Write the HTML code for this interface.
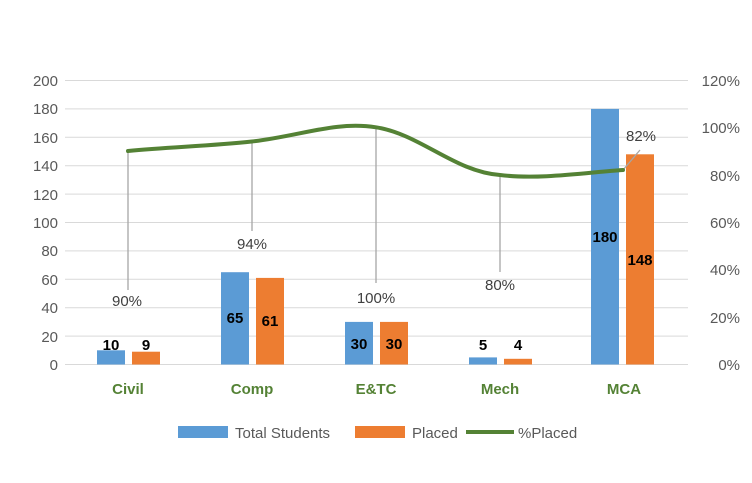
<!DOCTYPE html>
<html><head><meta charset="utf-8"><style>body{margin:0;background:#fff}svg{display:block;font-family:"Liberation Sans",sans-serif}</style></head><body>
<svg width="752" height="483" xmlns="http://www.w3.org/2000/svg">
<g stroke="#d9d9d9" stroke-width="1">
<line x1="65" x2="688" y1="80.5" y2="80.5"/><line x1="65" x2="688" y1="108.9" y2="108.9"/><line x1="65" x2="688" y1="137.3" y2="137.3"/><line x1="65" x2="688" y1="165.7" y2="165.7"/><line x1="65" x2="688" y1="194.1" y2="194.1"/><line x1="65" x2="688" y1="222.5" y2="222.5"/><line x1="65" x2="688" y1="250.9" y2="250.9"/><line x1="65" x2="688" y1="279.3" y2="279.3"/><line x1="65" x2="688" y1="307.7" y2="307.7"/><line x1="65" x2="688" y1="336.1" y2="336.1"/><line x1="65" x2="688" y1="364.5" y2="364.5"/>
</g>
<g font-size="15" fill="#595959" text-anchor="end">
<text x="58" y="86">200</text><text x="58" y="114">180</text><text x="58" y="143">160</text><text x="58" y="171">140</text><text x="58" y="200">120</text><text x="58" y="228">100</text><text x="58" y="256">80</text><text x="58" y="285">60</text><text x="58" y="313">40</text><text x="58" y="342">20</text><text x="58" y="370">0</text>
</g>
<g font-size="15" fill="#595959" text-anchor="end">
<text x="740" y="86">120%</text><text x="740" y="133">100%</text><text x="740" y="181">80%</text><text x="740" y="228">60%</text><text x="740" y="275">40%</text><text x="740" y="323">20%</text><text x="740" y="370">0%</text>
</g>
<g fill="#5b9bd5">
<rect x="97" y="350.3" width="28" height="14.2"/><rect x="221" y="272.2" width="28" height="92.3"/><rect x="345" y="321.9" width="28" height="42.6"/><rect x="469" y="357.4" width="28" height="7.1"/><rect x="591" y="108.9" width="28" height="255.6"/>
</g>
<g fill="#ed7d31">
<rect x="132" y="351.7" width="28" height="12.8"/><rect x="256" y="277.9" width="28" height="86.6"/><rect x="380" y="321.9" width="28" height="42.6"/><rect x="504" y="358.8" width="28" height="5.7"/><rect x="626" y="154.3" width="28" height="210.2"/>
</g>
<g font-size="15" font-weight="bold" fill="#000" text-anchor="middle">
<text x="111" y="350">10</text><text x="146" y="350">9</text><text x="235" y="323">65</text><text x="270" y="326">61</text><text x="359" y="349">30</text><text x="394" y="349">30</text><text x="483" y="350">5</text><text x="518" y="350">4</text><text x="605" y="242">180</text><text x="640" y="265">148</text>
</g>
<g stroke="#a6a6a6" stroke-width="1.3">
<line x1="128" y1="151" x2="128" y2="290"/><line x1="252" y1="142" x2="252" y2="231"/><line x1="376" y1="127" x2="376" y2="283"/><line x1="500" y1="175" x2="500" y2="272"/><line x1="623" y1="170" x2="640" y2="150"/>
</g>
<path d="M128,151 C170,147 210,146 252,141.5 C300,136 335,121 376,127.3 C420,134 455,172 500,175 C540,180 590,172 623,170" fill="none" stroke="#548235" stroke-width="4" stroke-linecap="round"/>
<g font-size="15" fill="#404040" text-anchor="middle">
<text x="127" y="306">90%</text><text x="252" y="249">94%</text><text x="376" y="303">100%</text><text x="500" y="290">80%</text><text x="641" y="141">82%</text>
</g>
<g font-size="15" font-weight="bold" fill="#548235" text-anchor="middle">
<text x="128" y="394">Civil</text><text x="252" y="394">Comp</text><text x="376" y="394">E&amp;TC</text><text x="500" y="394">Mech</text><text x="624" y="394">MCA</text>
</g>
<rect x="178" y="426" width="50" height="12" fill="#5b9bd5"/>
<text x="235" y="438" font-size="15" fill="#595959">Total Students</text>
<rect x="355" y="426" width="50" height="12" fill="#ed7d31"/>
<text x="412" y="438" font-size="15" fill="#595959">Placed</text>
<line x1="466" y1="432" x2="514" y2="432" stroke="#548235" stroke-width="4"/>
<text x="518" y="438" font-size="15" fill="#595959">%Placed</text>
</svg>
</body></html>
